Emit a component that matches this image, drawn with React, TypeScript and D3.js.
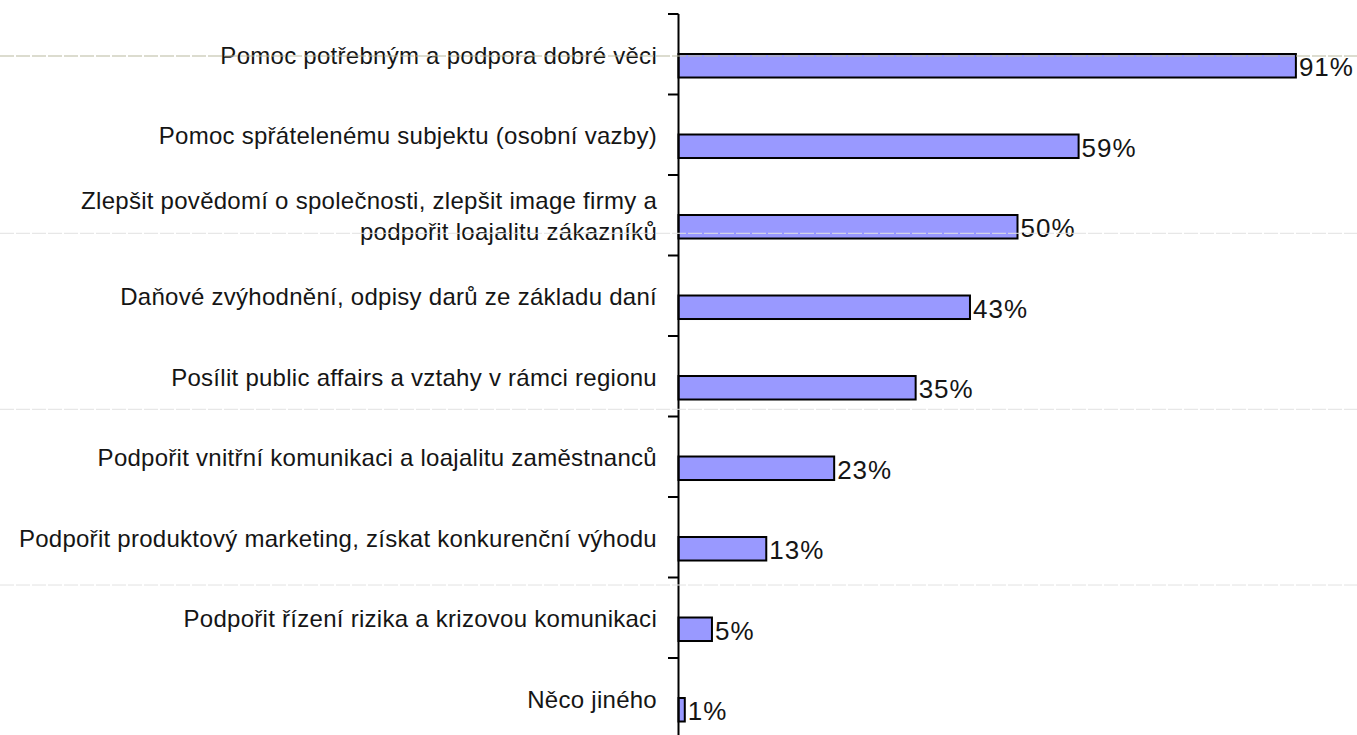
import React from "react";
import * as d3 from "d3";

const categories: string[][] = [
  ["Pomoc potřebným a podpora dobré věci"],
  ["Pomoc spřátelenému subjektu (osobní vazby)"],
  ["Zlepšit povědomí o společnosti, zlepšit image firmy a", "podpořit loajalitu zákazníků"],
  ["Daňové zvýhodnění, odpisy darů ze základu daní"],
  ["Posílit public affairs a vztahy v rámci regionu"],
  ["Podpořit vnitřní komunikaci a loajalitu zaměstnanců"],
  ["Podpořit produktový marketing, získat konkurenční výhodu"],
  ["Podpořit řízení rizika a krizovou komunikaci"],
  ["Něco jiného"],
];
const values: number[] = [91, 59, 50, 43, 35, 23, 13, 5, 1];
const valueLabels: string[] = ["91%", "59%", "50%", "43%", "35%", "23%", "13%", "5%", "1%"];

const W = 1357;
const H = 735;
const AXIS_X = 678.5;
const TOP = 14;
const BAND = 80.5;

export default function App() {
  const x = d3.scaleLinear().domain([0, 100]).range([678, 678 + 679]);
  const y = d3
    .scaleBand<number>()
    .domain(d3.range(categories.length))
    .range([TOP, TOP + BAND * categories.length])
    .paddingInner(0)
    .paddingOuter(0);
  const bw = y.bandwidth();
  const barTop = (i: number) => (y(i) as number) + bw * 0.497;
  const barH = bw * 0.292;
  const ticks = d3.range(categories.length + 1).map((i) => TOP + i * bw);
  const scanLines = [
    { y: 56, c: "#b9b99f" },
    { y: 233.3, c: "#e2e2e2" },
    { y: 409.3, c: "#e2e2e2" },
    { y: 585, c: "#e2e2e2" },
  ];
  const font = "'Liberation Sans', Arial, sans-serif";

  return (
    <svg
      width={W}
      height={H}
      style={{ position: "absolute", left: 0, top: 0, background: "#fff" }}
    >
      <rect x={0} y={0} width={W} height={H} fill="#fff" />
      {categories.map((lines, i) => {
        const base = (y(i) as number) + 49.5;
        const n = lines.length;
        return (
          <text
            key={"l" + i}
            x={657}
            textAnchor="end"
            fontFamily={font}
            fontSize={24}
            letterSpacing={0.27}
            fill="#151515"
          >
            {lines.map((ln, k) => (
              <tspan key={k} x={657} y={base + (k - (n - 1) / 2) * 31}>
                {ln}
              </tspan>
            ))}
          </text>
        );
      })}
      {values.map((v, i) => (
        <rect
          key={"b" + i}
          x={AXIS_X}
          y={barTop(i)}
          width={x(v) - AXIS_X}
          height={barH}
          fill="#9999FF"
          stroke="#000"
          strokeWidth={2}
        />
      ))}
      {values.map((v, i) => (
        <text
          key={"v" + i}
          x={x(v) + 3}
          y={barTop(i) + barH / 2 + 10.5}
          fontFamily={font}
          fontSize={26}
          letterSpacing={1}
          fill="#151515"
        >
          {valueLabels[i]}
        </text>
      ))}
      <line x1={AXIS_X} x2={AXIS_X} y1={TOP} y2={H} stroke="#000" strokeWidth={2} />
      {ticks.map((t, i) => (
        <line key={"t" + i} x1={668} x2={AXIS_X} y1={t} y2={t} stroke="#000" strokeWidth={2} />
      ))}
      {scanLines.map((s, i) => (
        <line
          key={"s" + i}
          x1={0}
          x2={W}
          y1={s.y}
          y2={s.y}
          stroke={s.c}
          strokeWidth={1}
          strokeDasharray="14 2"
        />
      ))}
    </svg>
  );
}
